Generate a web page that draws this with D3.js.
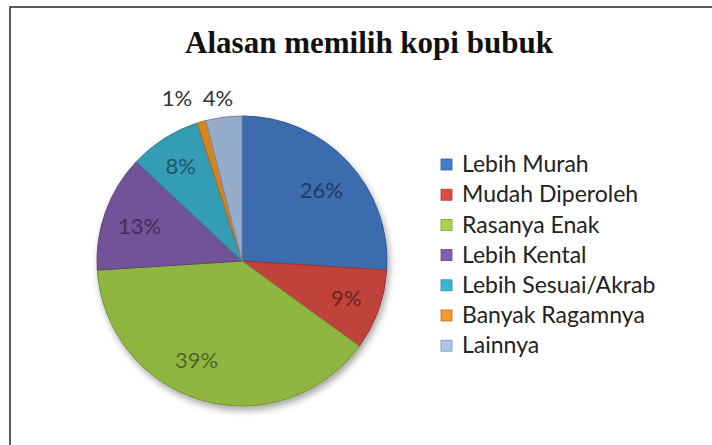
<!DOCTYPE html>
<html><head><meta charset="utf-8">
<script src="https://cdn.jsdelivr.net/npm/d3@7"></script>
<style>
html,body{margin:0;padding:0;background:#fff;}
svg{display:block;}
.title{font-family:'Liberation Serif','DejaVu Serif',serif;font-weight:bold;}
.cal{font-family:Lato,Carlito,Calibri,sans-serif;}
</style></head>
<body>
<script>
const title = "Alasan memilih kopi bubuk";
const categories = ["Lebih Murah","Mudah Diperoleh","Rasanya Enak","Lebih Kental","Lebih Sesuai/Akrab","Banyak Ragamnya","Lainnya"];
const values = [26, 9, 39, 13, 8, 1, 4];
const labels = ["26%","9%","39%","13%","8%","1%","4%"];
const colors = ["#437cc8","#dc4c43","#a6d24c","#8360ae","#3cb4d2","#f6982a","#adc6ea"];

const W = 712, H = 445;
const svg = d3.select("body").append("svg").attr("width", W).attr("height", H);
const defs = svg.append("defs");

// frame
svg.append("rect").attr("x", 10).attr("y", 7).attr("width", W + 10).attr("height", H + 10)
  .attr("fill", "#fff").attr("stroke", "#333").attr("stroke-width", 1.6);

svg.append("text").attr("class", "title").attr("x", 369).attr("y", 53).attr("text-anchor", "middle")
  .attr("font-size", 31).attr("fill", "#111").text(title);

const cx = 242, cy = 261, R = 145;

const f = defs.append("filter").attr("id", "sh").attr("x", "-20%").attr("y", "-20%").attr("width", "140%").attr("height", "140%");
f.append("feGaussianBlur").attr("in", "SourceAlpha").attr("stdDeviation", 3.5);
f.append("feOffset").attr("dx", 2).attr("dy", 4).attr("result", "b");
f.append("feComponentTransfer").append("feFuncA").attr("type", "linear").attr("slope", 0.35);
const fm = f.append("feMerge");
fm.append("feMergeNode");
fm.append("feMergeNode").attr("in", "SourceGraphic");

colors.forEach((c, i) => {
  const g = defs.append("radialGradient").attr("id", "g" + i)
    .attr("gradientUnits", "userSpaceOnUse").attr("cx", cx).attr("cy", cy).attr("r", R);
  g.append("stop").attr("offset", "0%").attr("stop-color", d3.color(c).brighter(0.1));
  g.append("stop").attr("offset", "92%").attr("stop-color", c);
  g.append("stop").attr("offset", "100%").attr("stop-color", d3.color(c).darker(0.4));
});

const pie = d3.pie().sort(null).value(d => d)(values);
const arc = d3.arc().innerRadius(0).outerRadius(R);
const gp = svg.append("g").attr("transform", `translate(${cx},${cy})`).attr("filter", "url(#sh)");
gp.selectAll("path").data(pie).join("path")
  .attr("d", arc)
  .attr("fill", (d, i) => `url(#g${i})`)
  .attr("stroke", (d, i) => d3.color(colors[i]).darker(1))
  .attr("stroke-width", 1);

// labels (small nudges mimic Excel's best-fit placement)
const nudge = [[0, 4], [2, 0], [-15, -5], [0, 2], [-3, -3], [0, 0], [0, 0]];
const inArc = d3.arc().innerRadius(R * 0.75).outerRadius(R * 0.75);
const lab = svg.append("g").attr("class", "cal").attr("transform", `translate(${cx},${cy})`)
  .attr("font-size", 22);
lab.selectAll("text").data(pie).join("text")
  .attr("transform", (d, i) => {
    let p;
    if (i === 5) p = [-65, -163];
    else if (i === 6) p = [-24, -163];
    else p = inArc.centroid(d);
    return `translate(${p[0] + nudge[i][0]},${p[1] + nudge[i][1]})`;
  })
  .attr("text-anchor", "middle").attr("dy", "0.35em")
  .attr("fill", (d, i) => i >= 5 ? "#333" : d3.color(colors[i]).darker(2))
  .text((d, i) => labels[i]);

// legend
const lg = svg.append("g").attr("class", "cal").attr("transform", "translate(441,164)")
  .attr("font-size", 23);
const rows = lg.selectAll("g").data(categories).join("g")
  .attr("transform", (d, i) => `translate(0,${i * 30.2})`);
rows.append("rect").attr("x", 0).attr("y", -5).attr("width", 11).attr("height", 11)
  .attr("fill", (d, i) => colors[i]).attr("stroke", (d, i) => d3.color(colors[i]).darker(0.8)).attr("stroke-width", 0.8);
rows.append("text").attr("x", 21).attr("y", 0).attr("dy", "0.36em").attr("fill", "#222").text(d => d);
</script>
</body></html>
